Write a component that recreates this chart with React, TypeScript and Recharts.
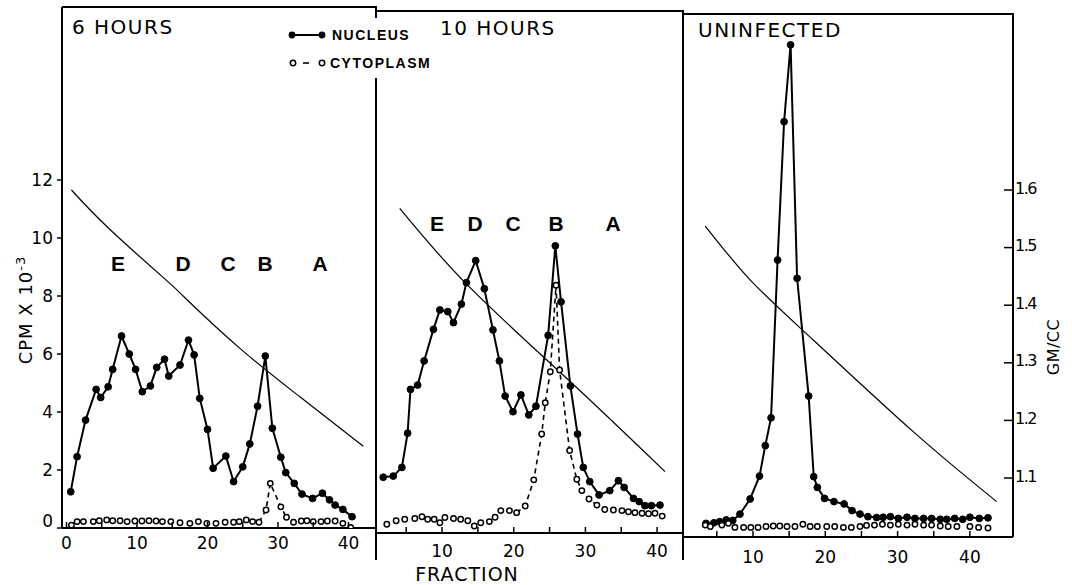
import React from 'react'
import { LineChart, Line, XAxis, YAxis } from 'recharts'

// ---- data (fraction number vs CPM x 10^-3, density in GM/CC) ----

// 6 hours
const n6Fraction = [0.6, 1.5, 2.7, 4.2, 4.85, 5.9, 6.55, 7.8, 8.9, 9.8, 10.75, 11.9, 12.8, 13.9, 14.5, 16.1, 17.3, 18.1, 18.9, 20, 20.8, 22.6, 23.7, 25, 26, 27.1, 28.2, 29.2, 30.4, 31.1, 32.3, 33.4, 34.9, 36.3, 37.3, 38.1, 39.2, 40.5]
const n6Cpm = [1.25, 2.46, 3.72, 4.78, 4.5, 4.87, 5.47, 6.62, 6.0, 5.47, 4.7, 4.9, 5.54, 5.82, 5.24, 5.62, 6.48, 5.97, 4.47, 3.4, 2.06, 2.48, 1.6, 2.11, 2.9, 4.2, 5.93, 3.44, 2.44, 1.91, 1.54, 1.17, 1.02, 1.2, 0.97, 0.79, 0.64, 0.39]
const c6Fraction = [0.7, 1.5, 2.4, 3.8, 4.65, 5.7, 6.55, 7.6, 8.6, 9.7, 10.7, 11.7, 12.7, 13.6, 14.8, 16.1, 17.5, 18.7, 19.9, 21.2, 22.5, 23.7, 24.5, 25.5, 26.4, 27.3, 28.3, 28.9, 30.4, 31.2, 32.2, 33.3, 34.1, 35, 36.1, 37, 38.1, 39.2, 40.3]
const c6Cpm = [0.1, 0.22, 0.22, 0.22, 0.25, 0.28, 0.25, 0.25, 0.22, 0.24, 0.24, 0.25, 0.24, 0.22, 0.22, 0.18, 0.16, 0.22, 0.16, 0.16, 0.2, 0.2, 0.22, 0.28, 0.22, 0.2, 0.62, 1.54, 0.73, 0.37, 0.2, 0.24, 0.25, 0.22, 0.22, 0.24, 0.24, 0.16, 0.02]
const c6Dashed = [27.3, 31.2] // stretch of fractions joined by the dashed line
const d6Fraction = [0.7, 6.2, 14.1, 16.8, 24.6, 33.1, 42.1]
const d6Gm = [1.6, 1.531, 1.444, 1.413, 1.325, 1.241, 1.155]

// 10 hours
const n10Fraction = [1.8, 3.2, 4.4, 5.2, 5.6, 6.6, 7.5, 8.8, 9.7, 10.8, 11.6, 12.7, 13.4, 14.7, 15.9, 17.1, 18, 18.8, 19.9, 21, 22.1, 23.1, 24.8, 25.8, 26.6, 27.9, 28.9, 29.7, 30.6, 31.9, 33.4, 34.6, 35.4, 36.7, 37.5, 38.3, 39.2, 40.4]
const n10Cpm = [1.75, 1.79, 2.09, 3.27, 4.78, 4.93, 5.76, 6.85, 7.52, 7.46, 7.08, 7.72, 8.46, 9.22, 8.25, 6.83, 5.76, 4.55, 4.01, 4.59, 3.9, 4.2, 6.64, 9.73, 7.8, 4.9, 3.24, 2.09, 1.6, 1.14, 1.29, 1.63, 1.4, 1.02, 0.91, 0.77, 0.77, 0.79]
const c10Fraction = [2.3, 3.6, 4.8, 6.2, 7.2, 8, 8.9, 9.7, 10.4, 11.6, 12.6, 13.6, 14.5, 15.4, 16.6, 17.4, 18.2, 19.4, 20.4, 21.6, 22.8, 23.9, 24.4, 25.1, 25.9, 26.4, 27.8, 28.8, 29.5, 30.5, 31.6, 32.7, 33.9, 35.1, 36, 36.9, 37.9, 38.8, 39.7, 40.7]
const c10Cpm = [0.13, 0.25, 0.3, 0.33, 0.39, 0.3, 0.3, 0.18, 0.36, 0.33, 0.3, 0.25, 0.07, 0.18, 0.22, 0.37, 0.6, 0.6, 0.53, 0.76, 1.66, 3.24, 4.32, 5.39, 8.37, 5.45, 2.67, 1.68, 1.29, 1.0, 0.79, 0.64, 0.62, 0.6, 0.56, 0.53, 0.51, 0.49, 0.51, 0.41]
const c10Dashed = [20.4, 31.6]
const d10Fraction = [4.1, 13.7, 27.9, 41.1]
const d10Gm = [1.568, 1.433, 1.267, 1.111]

// uninfected
const nUFraction = [3.5, 4.6, 5.4, 6.3, 7.2, 8.2, 9.6, 10.9, 11.7, 12.5, 13.4, 14.3, 15.2, 16.1, 17.7, 18.4, 18.9, 19.9, 21.2, 22.6, 23.7, 24.8, 25.9, 27.1, 28, 29, 30.1, 31.3, 32.4, 33.6, 34.7, 35.9, 36.8, 37.9, 39, 40, 41.3, 42.5]
const nUCpm = [0.16, 0.18, 0.22, 0.28, 0.26, 0.48, 1.0, 1.79, 2.84, 3.8, 9.24, 14.01, 16.66, 8.61, 4.55, 1.77, 1.4, 1.02, 0.91, 0.83, 0.6, 0.48, 0.39, 0.36, 0.37, 0.39, 0.33, 0.37, 0.33, 0.33, 0.33, 0.3, 0.3, 0.33, 0.3, 0.37, 0.33, 0.35]
const cUFraction = [3.4, 4.1, 5.7, 6.6, 7.5, 8.7, 9.7, 10.7, 11.8, 12.8, 13.7, 14.7, 15.8, 16.9, 17.9, 18.9, 20.2, 21.3, 22.5, 23.6, 24.8, 25.7, 26.8, 27.9, 29, 30.1, 31.3, 32.4, 33.6, 34.7, 35.9, 37, 38.2, 40, 41.2, 42.5]
const cUCpm = [0.1, 0.05, 0.1, 0.16, 0.02, 0.02, 0.02, 0.02, 0.05, 0.07, 0.07, 0.05, 0.05, 0.13, 0.05, 0.05, 0.05, 0.05, 0.02, 0.02, 0.05, 0.09, 0.1, 0.13, 0.1, 0.13, 0.1, 0.13, 0.1, 0.1, 0.07, 0.05, 0.05, 0.05, 0.02, 0.0]
const dUFraction = [3.4, 9.6, 18.3, 32.2, 43.7]
const dUGm = [1.5375, 1.444, 1.34, 1.18, 1.059]

const cpmTicks = [0, 2, 4, 6, 8, 10, 12]
const gmTicks = [1.1, 1.2, 1.3, 1.4, 1.5, 1.6]
const fractionTicksFirst = [0, 5, 10, 15, 20, 25, 30, 35, 40]
const fractionTicks = [5, 10, 15, 20, 25, 30, 35, 40]
const bandLetters = ['E', 'D', 'C', 'B', 'A']

const zip = (xs: number[], ys: number[], key: string) => xs.map((f, i) => ({ fraction: f, [key]: ys[i] }))
const within = (rows: { fraction: number }[], range: number[] | null) =>
  range ? rows.filter((r) => r.fraction >= range[0] && r.fraction <= range[1]) : []

// ---- layout ----
const W = 1072
const H = 585
const FONT = '"DejaVu Sans", sans-serif'
// both vertical scales are shared by the three panels
const CPM_ZERO_Y = 528
const CPM_PX = 29
const GM_REF = 1.6
const GM_REF_Y = 190
const GM_PX = 576

const panels = [
  {
    key: '6h', title: '6 HOURS', titleX: 72, titleY: 27,
    box: { left: 62, right: 376, top: 7, bottom: 528 }, xDomain: [-0.64, 43.9], xTicks: fractionTicksFirst, labelGap: 15,
    nucleus: zip(n6Fraction, n6Cpm, 'cpm'), cyto: zip(c6Fraction, c6Cpm, 'cpm'), dashed: c6Dashed, density: zip(d6Fraction, d6Gm, 'gm'),
    letters: [118, 183, 228, 265, 320], lettersY: 263, showCpm: true, showGm: false,
  },
  {
    key: '10h', title: '10 HOURS', titleX: 440, titleY: 28,
    box: { left: 376, right: 683, top: 11, bottom: 533 }, xDomain: [0.79, 43.61], xTicks: fractionTicks, labelGap: 18,
    nucleus: zip(n10Fraction, n10Cpm, 'cpm'), cyto: zip(c10Fraction, c10Cpm, 'cpm'), dashed: c10Dashed, density: zip(d10Fraction, d10Gm, 'gm'),
    letters: [437, 475, 513, 556, 613], lettersY: 223, showCpm: false, showGm: false,
  },
  {
    key: 'un', title: 'UNINFECTED', titleX: 698, titleY: 30,
    box: { left: 683, right: 1013, top: 14, bottom: 537 }, xDomain: [0.32, 45.96], xTicks: fractionTicks, labelGap: 20,
    nucleus: zip(nUFraction, nUCpm, 'cpm'), cyto: zip(cUFraction, cUCpm, 'cpm'), dashed: null, density: zip(dUFraction, dUGm, 'gm'),
    letters: [], lettersY: 0, showCpm: false, showGm: true,
  },
]

const XTick = ({ x, y, payload, gap }: any) => (
  <g>
    <line x1={x} x2={x} y1={y} y2={y - 6} stroke="#000" strokeWidth={1.5} />
    {payload.value % 10 === 0 && (
      <text x={x} y={y + gap} textAnchor="middle" dominantBaseline="central" fontSize={17} fontFamily={FONT} fill="#000">
        {payload.value}
      </text>
    )}
  </g>
)

const CpmTick = ({ x, y, payload }: any) => (
  <text x={x} y={payload.value === 0 ? y - 7 : y} textAnchor="end" dominantBaseline="central" fontSize={17} fontFamily={FONT} fill="#000">
    {payload.value}
  </text>
)

const GmTick = ({ x, y, payload }: any) => (
  <g>
    <line x1={x - 9} x2={x} y1={y} y2={y} stroke="#000" strokeWidth={1.5} />
    <text x={x + 2} y={y - 2} textAnchor="start" dominantBaseline="central" fontSize={16} letterSpacing={-1.5} fontFamily={FONT} fill="#000">
      {payload.value.toFixed(1)}
    </text>
  </g>
)

function Panel({ p }: { p: (typeof panels)[number] }) {
  const { box } = p
  const cpmDomain = [(CPM_ZERO_Y - box.bottom) / CPM_PX, (CPM_ZERO_Y - box.top) / CPM_PX]
  const gmDomain = [GM_REF + (GM_REF_Y - box.bottom) / GM_PX, GM_REF + (GM_REF_Y - box.top) / GM_PX]
  const cpmW = p.showCpm ? 30 : 0
  const gmW = p.showGm ? 40 : 0
  return (
    <div style={{ position: 'absolute', left: 0, top: 0 }}>
      <LineChart
        width={W}
        height={H}
        margin={{ left: box.left - cpmW, right: W - box.right - gmW, top: box.top, bottom: H - box.bottom - 30 }}
      >
        <XAxis
          type="number"
          dataKey="fraction"
          domain={p.xDomain}
          ticks={p.xTicks}
          interval={0}
          allowDataOverflow
          height={30}
          tickLine={false}
          tickSize={0}
          tickMargin={0}
          axisLine={{ stroke: '#000', strokeWidth: 2 }}
          tick={(props: any) => <XTick {...props} gap={p.labelGap} />}
        />
        <YAxis
          yAxisId="cpm"
          type="number"
          domain={cpmDomain}
          ticks={cpmTicks}
          interval={0}
          allowDataOverflow
          hide={!p.showCpm}
          width={cpmW}
          tickSize={5}
          tickMargin={4}
          tickLine={{ stroke: '#000', strokeWidth: 1.5 }}
          axisLine={{ stroke: '#000', strokeWidth: 2 }}
          tick={<CpmTick />}
        />
        <YAxis
          yAxisId="gm"
          orientation="right"
          type="number"
          domain={gmDomain}
          ticks={gmTicks}
          interval={0}
          allowDataOverflow
          hide={!p.showGm}
          width={gmW}
          tickLine={false}
          tickSize={0}
          tickMargin={0}
          axisLine={{ stroke: '#000', strokeWidth: 2 }}
          tick={<GmTick />}
        />
        {/* density gradient */}
        <Line
          yAxisId="gm"
          data={p.density}
          dataKey="gm"
          type="natural"
          stroke="#000"
          strokeWidth={1.2}
          dot={false}
          activeDot={false}
          isAnimationActive={false}
        />
        <Line
          yAxisId="cpm"
          data={p.nucleus}
          dataKey="cpm"
          type="linear"
          stroke="#000"
          strokeWidth={2}
          dot={{ r: 3.4, fill: '#000', stroke: '#000', strokeWidth: 1 }}
          activeDot={false}
          isAnimationActive={false}
        />
        {/* cytoplasm: dashed only where the curve leaves the baseline */}
        <Line
          yAxisId="cpm"
          data={within(p.cyto, p.dashed)}
          dataKey="cpm"
          type="linear"
          stroke="#000"
          strokeWidth={1.6}
          strokeDasharray="5 4"
          dot={false}
          activeDot={false}
          isAnimationActive={false}
        />
        <Line
          yAxisId="cpm"
          data={p.cyto}
          dataKey="cpm"
          type="linear"
          stroke="none"
          dot={{ r: 2.7, fill: '#fff', stroke: '#000', strokeWidth: 1.5 }}
          activeDot={false}
          isAnimationActive={false}
        />
      </LineChart>
    </div>
  )
}

const rule = (left: number, top: number, width: number, height: number) => (
  <div style={{ position: 'absolute', left, top, width, height, background: '#000' }} />
)

const textStyle: React.CSSProperties = { position: 'absolute', fontFamily: FONT, color: '#000', whiteSpace: 'nowrap', lineHeight: 1 }

export default function App() {
  return (
    <div style={{ position: 'absolute', left: 0, top: 0, width: W, height: H, background: '#fff', overflow: 'hidden' }}>
      {panels.map((p) => (
        <Panel key={p.key} p={p} />
      ))}

      {/* frame */}
      {rule(62, 6, 315, 2)}
      {rule(376, 10, 308, 2)}
      {rule(683, 13, 331, 2)}
      {rule(375, 6, 2, 12)}
      {rule(375, 78, 2, 482)}
      {rule(682, 10, 2, 550)}

      {/* titles */}
      {panels.map((p) => (
        <div key={p.key + 't'} style={{ ...textStyle, left: p.titleX, top: p.titleY - 10, fontSize: 20, letterSpacing: 1.5 }}>
          {p.title}
        </div>
      ))}

      {/* band letters */}
      {panels.map((p) =>
        p.letters.map((lx, i) => (
          <div
            key={p.key + bandLetters[i]}
            style={{ ...textStyle, left: lx, top: p.lettersY, transform: 'translate(-50%, -50%)', fontFamily: '"Liberation Sans", sans-serif', fontWeight: 700, fontSize: 21 }}
          >
            {bandLetters[i]}
          </div>
        )),
      )}

      {/* legend */}
      <svg style={{ position: 'absolute', left: 284, top: 22 }} width={170} height={52}>
        <line x1={8} x2={38} y1={13} y2={13} stroke="#000" strokeWidth={2} />
        <circle cx={8} cy={13} r={3.4} fill="#000" />
        <circle cx={38} cy={13} r={3.4} fill="#000" />
        <text x={48} y={13} dominantBaseline="central" fontFamily='"Liberation Sans", sans-serif' fontWeight={700} fontSize={14} letterSpacing={1.5}>
          NUCLEUS
        </text>
        <line x1={19} x2={25} y1={41} y2={41} stroke="#000" strokeWidth={1.6} />
        <circle cx={9} cy={41} r={2.7} fill="#fff" stroke="#000" strokeWidth={1.5} />
        <circle cx={38} cy={41} r={2.7} fill="#fff" stroke="#000" strokeWidth={1.5} />
        <text x={46} y={41} dominantBaseline="central" fontFamily='"Liberation Sans", sans-serif' fontWeight={700} fontSize={14} letterSpacing={1.5}>
          CYTOPLASM
        </text>
      </svg>

      {/* axis titles */}
      <div style={{ ...textStyle, left: 467, top: 574, transform: 'translate(-50%, -50%)', fontSize: 19, lineHeight: '18px', letterSpacing: 1 }}>FRACTION</div>
      <div style={{ ...textStyle, left: 24, top: 310, transform: 'translate(-50%, -50%) rotate(-90deg)', fontSize: 18, letterSpacing: 1 }}>
        CPM X 10<sup style={{ fontSize: 13 }}>-3</sup>
      </div>
      <div style={{ ...textStyle, left: 1054, top: 347, transform: 'translate(-50%, -50%) rotate(-90deg)', fontSize: 16, letterSpacing: 0.5 }}>
        GM/CC
      </div>
    </div>
  )
}
